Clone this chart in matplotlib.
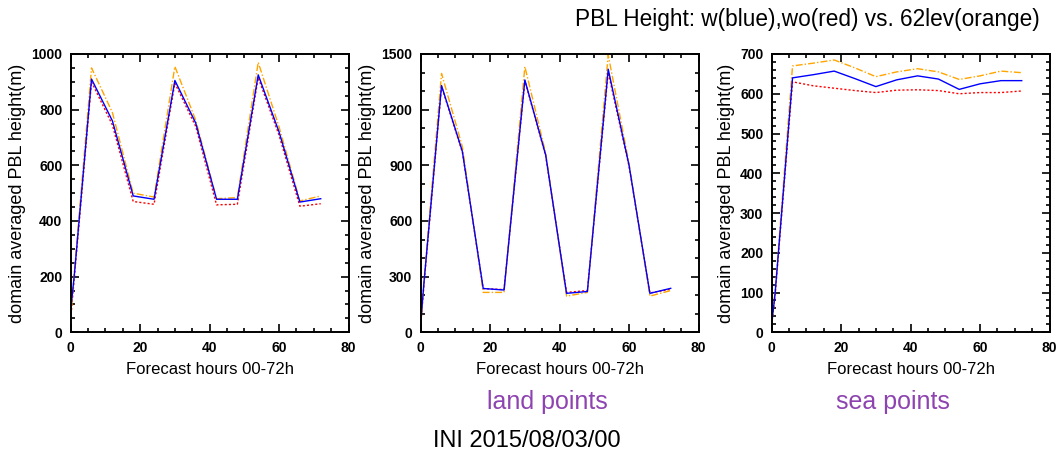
import numpy as np
import matplotlib
matplotlib.use("Agg")
import matplotlib.pyplot as plt
from matplotlib.ticker import MultipleLocator

plt.rcParams["font.family"] = ["Liberation Sans", "DejaVu Sans"]

# forecast hours (hourly at the start, then 6-hourly)
hours = [0, 1, 6, 12, 18, 24, 30, 36, 42, 48, 54, 60, 66, 72]

# panel 1: all points
all_w    = [80, 200, 910, 760, 490, 478, 905, 752, 478, 478, 925, 720, 468, 480]
all_wo   = [50, 190, 900, 745, 470, 460, 895, 740, 458, 460, 915, 708, 453, 462]
all_62   = [50, 210, 950, 790, 500, 486, 955, 762, 480, 484, 970, 738, 472, 490]

# panel 2: land points
land_w   = [50, 280, 1330, 975, 236, 228, 1360, 955, 210, 220, 1418, 900, 210, 237]
land_wo  = [40, 270, 1325, 970, 236, 230, 1355, 950, 215, 225, 1400, 895, 212, 232]
land_62  = [40, 290, 1395, 1000, 215, 215, 1432, 965, 195, 215, 1495, 910, 195, 225]

# panel 3: sea points
sea_w    = [20, 100, 640, 648, 657, 638, 618, 635, 645, 637, 611, 625, 633, 633]
sea_wo   = [20, 95, 630, 620, 614, 608, 603, 609, 610, 608, 600, 603, 603, 607]
sea_62   = [20, 105, 670, 677, 685, 665, 643, 655, 663, 655, 636, 645, 657, 653]

panels = [
    (all_w, all_wo, all_62, 1000, 200, 50),
    (land_w, land_wo, land_62, 1500, 300, 100),
    (sea_w, sea_wo, sea_62, 700, 100, 20),
]
lefts = [70.7, 420.7, 771.7]

W, H = 1060, 461
fig = plt.figure(figsize=(W / 100, H / 100), dpi=100)

for (w, wo, lev, ymax, ymaj, ymin), left in zip(panels, lefts):
    ax = fig.add_axes([left / W, (H - 332.3) / H, 277.8 / W, 278.3 / H])
    ax.plot(hours, wo, color="#ff0000", linewidth=1.0, linestyle=(0, (1.5, 1.5)))
    ax.plot(hours, lev, color="#ffa500", linewidth=1.0, linestyle=(0, (5, 1.5, 1, 1.5)))
    ax.plot(hours, w, color="#0000ff", linewidth=1.0)
    ax.set_xlim(0, 80)
    ax.set_ylim(0, ymax)
    ax.xaxis.set_major_locator(MultipleLocator(20))
    ax.xaxis.set_minor_locator(MultipleLocator(5))
    ax.yaxis.set_major_locator(MultipleLocator(ymaj))
    ax.yaxis.set_minor_locator(MultipleLocator(ymin))
    ax.tick_params(which="both", direction="in", top=True, right=True, width=1.2)
    ax.tick_params(which="major", length=6, labelsize=10, pad=6)
    ax.tick_params(which="minor", length=3)
    for lab in ax.get_xticklabels() + ax.get_yticklabels():
        lab.set_fontweight("bold")
    for sp in ax.spines.values():
        sp.set_linewidth(1.4)
    ax.set_xlabel("Forecast hours 00-72h", fontsize=12, labelpad=5)
    ax.set_ylabel("domain averaged PBL height(m)", fontsize=13, labelpad=4)

fig.text(0.981, 0.958, "PBL Height: w(blue),wo(red) vs. 62lev(orange)",
         ha="right", va="center", fontsize=16.3)
fig.text(547 / W, 1 - 402 / H, "land points", ha="center", va="center",
         fontsize=18, color="#8e44b0")
fig.text(893 / W, 1 - 402 / H, "sea points", ha="center", va="center",
         fontsize=18, color="#8e44b0")
fig.text(527 / W, 1 - 441 / H, "INI 2015/08/03/00", ha="center", va="center",
         fontsize=17, color="black")

fig.savefig("out.png", dpi=100)
